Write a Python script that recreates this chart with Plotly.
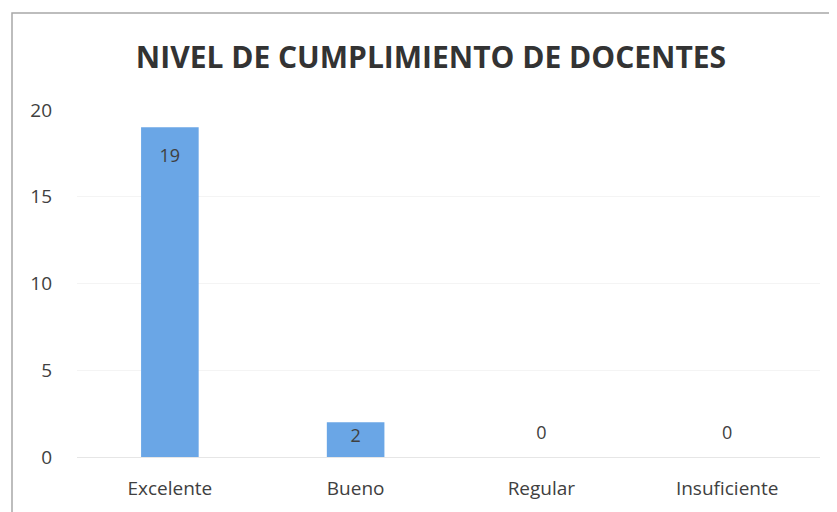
import plotly.graph_objects as go

categories = ["Excelente", "Bueno", "Regular", "Insuficiente"]
values = [19, 2, 0, 0]
title_text = "NIVEL DE CUMPLIMIENTO DE DOCENTES"
y_ticks = [0, 5, 10, 15, 20]

label_pos = ["bottom center" if v > 0 else "top center" for v in values]
label_gap = [32, 8, 20, 20]  # invisible marker sizes used as label offsets

fig = go.Figure()
fig.add_trace(go.Bar(
    x=categories, y=values,
    marker=dict(color="#6aa6e6", line=dict(width=0)),
    width=0.31, hoverinfo="x+y",
))
fig.add_trace(go.Scatter(
    x=categories, y=values, mode="markers+text",
    marker=dict(size=label_gap, color="rgba(0,0,0,0)", line=dict(width=0, color="rgba(0,0,0,0)")),
    text=[str(v) for v in values], textposition=label_pos,
    textfont=dict(family="Open Sans", size=18, color="#404040"),
    cliponaxis=False, hoverinfo="skip",
))

OFF = 8
L, R = 77 - OFF, 837 - (820 - OFF)
T = 110 - OFF
B = 512 - (457 - OFF)
W, H = 837, 512
pw = W - L - R
ph = H - T - B

fig.update_layout(
    width=W, height=H,
    margin=dict(l=L, r=R, t=T, b=B),
    paper_bgcolor="white", plot_bgcolor="white",
    title=dict(text="<b>" + title_text + "</b>", x=(431 - OFF) / W, xanchor="center",
               y=1 - (57 - OFF) / H, yanchor="middle",
               font=dict(family="Open Sans", size=30, color="#333333")),
    showlegend=False,
    yaxis=dict(range=[0, 20], tickvals=y_ticks, showgrid=True, gridcolor="#f4f4f4",
               zeroline=False, showline=False, ticks="",
               tickfont=dict(family="Open Sans", size=19, color="#404040"), ticklabelstandoff=24),
    xaxis=dict(showline=True, linecolor="#e6e6e6", ticks="",
               tickfont=dict(family="Open Sans", size=19, color="#404040"), ticklabelstandoff=14),
    shapes=[dict(type="rect", xref="paper", yref="paper",
                 x0=(12 - OFF - L) / pw, x1=(W + 5 - L) / pw,
                 y0=-(H + 5 - (T + ph)) / ph, y1=(T + ph - (13 - OFF)) / ph,
                 line=dict(color="#a8a8a8", width=1.5), layer="below")],
)

fig.write_html("out.html")
